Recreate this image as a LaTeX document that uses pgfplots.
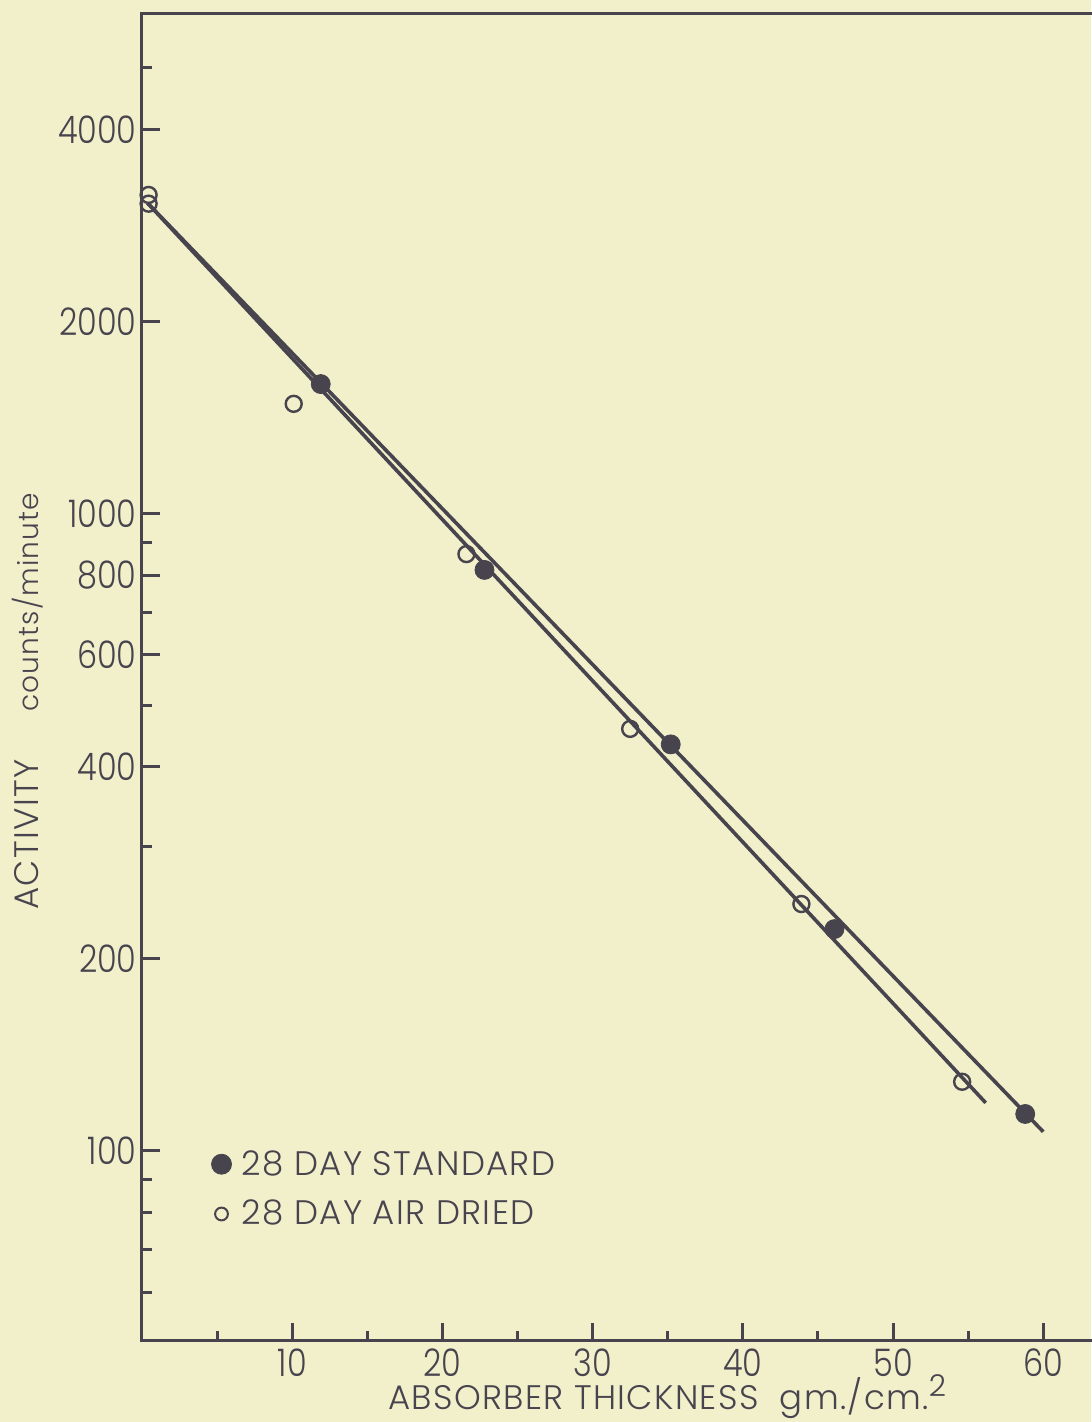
\documentclass[border=0pt]{standalone}
\usepackage{fontspec}
\setmainfont{Poppins Light}
\newfontfamily\tickfont{Poppins Light}[FakeStretch=0.84]
\newfontfamily\spacedfont{Poppins Light}[LetterSpace=4]
\usepackage{pgfplots}
\pgfplotsset{compat=1.18}
\definecolor{bg}{RGB}{241,240,203}
\definecolor{ink}{RGB}{72,68,78}
\begin{document}
\begin{tikzpicture}
\path[use as bounding box, fill=bg] (-71pt,-40.5pt) rectangle (474.5pt,670.5pt);
\begin{axis}[
  scale only axis, width=479.9pt, height=663.5pt,
  at={(0,0)}, anchor=south west,
  xmin=0, xmax=63.9, ymode=log, ymin=50.3, ymax=6072,
  xtick={10,20,...,60}, minor xtick={5,15,...,55},
  ytick={100,200,400,600,800,1000,2000,4000},
  yticklabels={100,200,400,600,800,1000,2000,4000},
  minor ytick={60,70,80,90,300,500,700,900,5000},
  xtick pos=left, ytick pos=left, tick align=inside,
  major tick length=9pt, minor tick length=5pt,
  every tick/.style={ink, line width=1.5pt},
  axis line style={ink, line width=1.5pt},
  tick label style={font=\tickfont\fontsize{19}{19}\selectfont, text=ink},
  /pgf/number format/assume math mode=true,
  xticklabel style={anchor=base, inner sep=0pt, yshift=-18pt},
  yticklabel style={anchor=east, inner sep=0pt, xshift=-2.5pt},
  xlabel={ABSORBER THICKNESS\ \ gm./cm.\raisebox{0.7ex}{\fontsize{15}{15}\selectfont 2}},
  xlabel style={at={(axis description cs:0.547,-0.0515)}, anchor=base, inner sep=0pt, font=\spacedfont\fontsize{17}{17}\selectfont, text=ink},
  ylabel={ACTIVITY\hspace{24pt}{\fontsize{14}{14}\selectfont counts/minute}},
  ylabel style={at={(axis description cs:-0.1188,0.482)}, anchor=center, font=\spacedfont\fontsize{17}{17}\selectfont, text=ink},
  legend image code/.code={\draw[#1] plot coordinates {(0pt,0pt)};},
  legend style={draw=none, fill=none, at={(rel axis cs:0.072,0.147)}, anchor=north west,
    font=\spacedfont\fontsize{17}{17}\selectfont, text=ink, row sep=7pt, column sep=3pt, inner sep=0pt},
  legend cell align=left,
]
\addplot[ink, line width=1.8pt, forget plot] coordinates {(0.37,3067) (60.0,107.1)};
\addplot[ink, line width=1.8pt, forget plot] coordinates {(0.37,3067) (56.17,118.9)};
\addplot[only marks, mark=*, mark size=4.75pt, ink, forget plot] coordinates {
(11.9,1595) (22.8,815) (35.2,434) (46.1,222.7) (58.8,114.2)};
\addplot[only marks, mark=o, mark size=4pt, ink, line width=1.2pt, mark options={fill=bg}, forget plot] coordinates {
(0.44,3060)};
\addplot[only marks, mark=o, mark size=4pt, ink, line width=1.2pt, mark options={fill=bg}, forget plot] coordinates {
(0.44,3158) (10.1,1485) (21.6,863) (32.5,459) (43.9,243.8) (54.6,128.3)};
\addlegendimage{only marks, mark=*, mark size=5pt, ink}
\addlegendentry{28 DAY STANDARD}
\addlegendimage{only marks, mark=o, mark size=3.2pt, ink, line width=1pt}
\addlegendentry{28 DAY AIR DRIED}
\end{axis}
\end{tikzpicture}
\end{document}
